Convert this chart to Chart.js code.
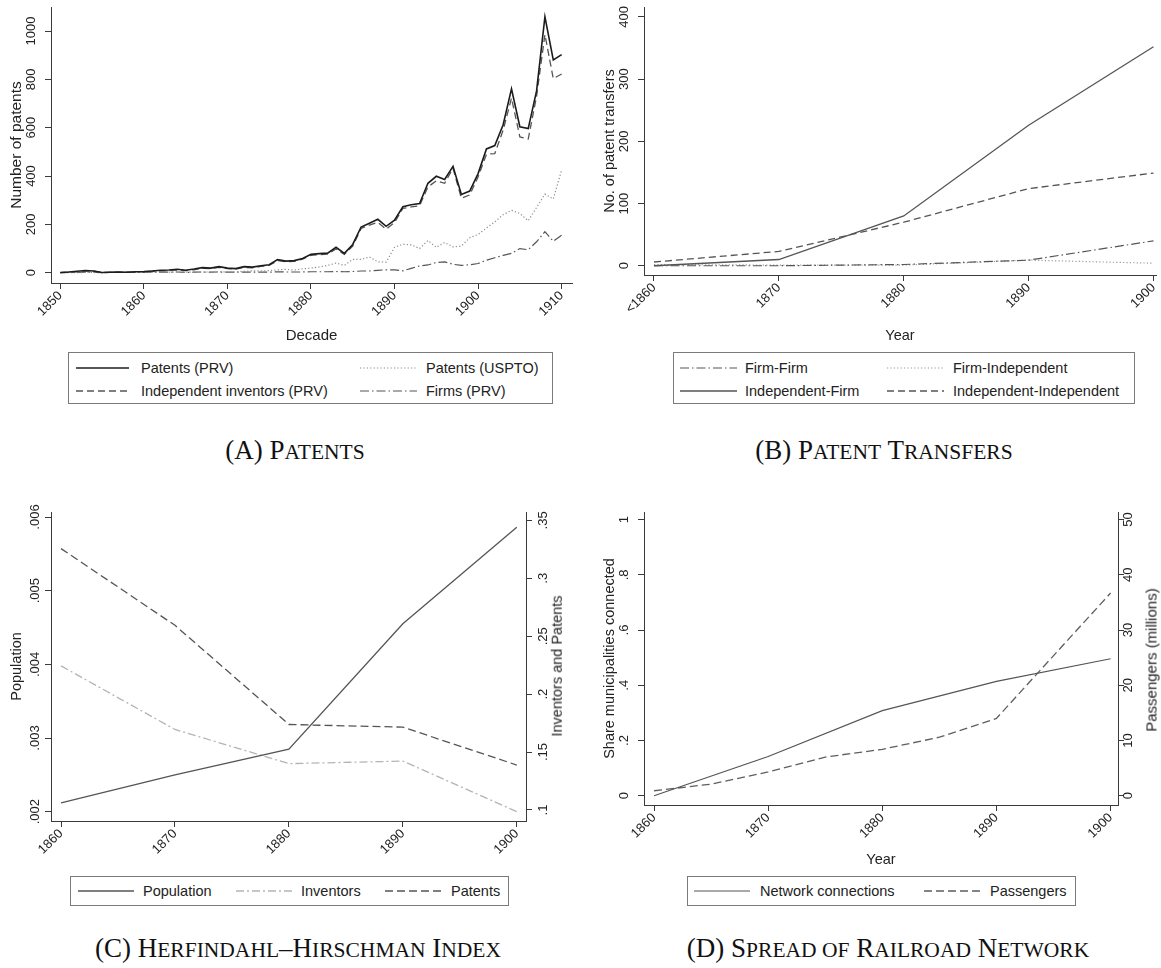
<!DOCTYPE html>
<html><head><meta charset="utf-8">
<script src="https://cdn.jsdelivr.net/npm/chart.js@4.4.1/dist/chart.umd.min.js"></script>
<style>
html,body{margin:0;padding:0;background:#fff;}
#page{position:relative;width:1161px;height:968px;overflow:hidden;background:#fff;font-family:"Liberation Sans",Arial,sans-serif;}
canvas{position:absolute;}
.legend{position:absolute;border:1px solid #7a7a7a;box-sizing:border-box;background:#fff;}
.li{position:absolute;font-size:14.5px;color:#222;line-height:1;white-space:nowrap;transform:translateY(-50%);}
.cap{position:absolute;font-family:"Liberation Serif","Times New Roman",serif;color:#111;white-space:nowrap;transform:translate(-50%,-50%);font-size:27px;line-height:1;}
.cap .sc{font-size:21.5px;}
.rt{position:absolute;font-size:14.5px;color:#222;white-space:nowrap;line-height:1;transform:translate(-50%,-50%) rotate(-90deg);}
</style></head><body><div id="page">
<canvas id="cA" width="580" height="345" style="left:0;top:0;width:580px;height:345px"></canvas>
<canvas id="cB" width="581" height="345" style="left:580px;top:0;width:581px;height:345px"></canvas>
<canvas id="cC" width="580" height="370" style="left:0;top:500px;width:580px;height:370px"></canvas>
<canvas id="cD" width="581" height="370" style="left:580px;top:500px;width:581px;height:370px"></canvas>
<div class="rt" style="left:556.8px;top:666px">Inventors and Patents</div>
<div class="rt" style="left:1150.6px;top:660px;font-size:15px">Passengers (millions)</div>
<div class="cap" style="left:295px;top:450px">(A) P<span class="sc">ATENTS</span></div>
<div class="cap" style="left:884px;top:450px">(B) P<span class="sc">ATENT</span> T<span class="sc">RANSFERS</span></div>
<div class="cap" style="left:298px;top:948px">(C) H<span class="sc">ERFINDAHL</span>–H<span class="sc">IRSCHMAN</span> I<span class="sc">NDEX</span></div>
<div class="cap" style="left:888px;top:948px">(D) S<span class="sc">PREAD OF</span> R<span class="sc">AILROAD</span> N<span class="sc">ETWORK</span></div>
</div>
<script>
// ---------- Panel A: Patents (annual) ----------
const yearsA = [1850,1851,1852,1853,1854,1855,1856,1857,1858,1859,
  1860,1861,1862,1863,1864,1865,1866,1867,1868,1869,
  1870,1871,1872,1873,1874,1875,1876,1877,1878,1879,
  1880,1881,1882,1883,1884,1885,1886,1887,1888,1889,
  1890,1891,1892,1893,1894,1895,1896,1897,1898,1899,
  1900,1901,1902,1903,1904,1905,1906,1907,1908,1909,1910];
const patentsPRV = [1,3,6,9,7,1,2,3,2,4,
  5,7,10,11,14,10,15,21,19,25,
  19,17,25,23,29,33,54,48,50,59,
  76,79,81,105,80,117,189,205,221,192,
  217,273,281,286,370,399,386,440,324,338,
  410,512,526,612,761,604,596,752,1059,880,902];
const independentPRV = [0,2,4,7,6,1,2,2,2,3,
  4,6,8,9,11,9,12,18,17,22,
  17,15,22,20,26,30,50,45,47,56,
  72,75,77,98,76,110,183,197,208,180,
  208,266,272,277,355,380,370,432,308,322,
  396,490,493,590,722,562,553,730,985,803,822];
const patentsUSPTO = [0,0,0,1,1,0,1,1,1,1,
  1,2,2,2,3,2,2,3,3,4,
  3,3,6,8,7,9,12,14,11,16,
  19,24,30,40,30,55,55,65,45,44,
  105,118,115,100,133,105,125,107,110,145,
  158,185,210,240,258,245,215,270,325,305,425];
const firmsPRV = [0,1,1,2,2,0,1,1,1,1,
  1,2,2,2,3,1,2,3,2,3,
  2,2,3,2,2,2,4,3,3,3,
  4,4,4,5,4,5,7,7,10,12,
  12,8,18,28,32,42,45,35,30,33,
  38,52,62,72,80,100,95,128,170,130,155];
const xTicksA = [1850,1860,1870,1880,1890,1900,1910];
const xLabelsA = ['1850','1860','1870','1880','1890','1900','1910'];
const yTicksA = [0,200,400,600,800,1000];
const yLabelsA = ['0','200','400','600','800','1000'];

// ---------- Panel B: Patent transfers ----------
const yearsB = [1860,1870,1880,1890,1900];
const xLabelsB = ['<1860','1870','1880','1890','1900'];
const firmFirm = [0,0,2,9,40];
const firmIndependent = [2,1,1,9,4];
const independentFirm = [0,10,80,226,352];
const independentIndependent = [6,23,70,124,149];
const yTicksB = [0,100,200,300,400];
const yLabelsB = ['0','100','200','300','400'];

// ---------- Panel C: HHI ----------
const yearsC = [1860,1870,1880,1890,1900];
const hhiPopulation = [0.00212,0.00250,0.00285,0.00455,0.00586];
const hhiInventors = [0.2244,0.1695,0.1400,0.1422,0.0986];
const hhiPatents = [0.3256,0.2594,0.1738,0.1715,0.1388];
const xTicksC = [1860,1870,1880,1890,1900];
const xLabelsC = ['1860','1870','1880','1890','1900'];
const yTicksCL = [0.002,0.003,0.004,0.005,0.006];
const yLabelsCL = ['.002','.003','.004','.005','.006'];
const yTicksCR = [0.1,0.15,0.2,0.25,0.3,0.35];
const yLabelsCR = ['.1','.15','.2','.25','.3','.35'];

// ---------- Panel D: Railroad ----------
const yearsDNet = [1860,1870,1880,1890,1900];
const networkShare = [0,0.142,0.308,0.414,0.496];
const yearsDPass = [1860,1865,1870,1875,1880,1885,1890,1900];
const passengersMillions = [0.9,2.1,4.3,7.0,8.4,10.6,14.0,36.7];
const xTicksD = [1860,1870,1880,1890,1900];
const xLabelsD = ['1860','1870','1880','1890','1900'];
const yTicksDL = [0,0.2,0.4,0.6,0.8,1];
const yLabelsDL = ['0','.2','.4','.6','.8','1'];
const yTicksDR = [0,10,20,30,40,50];
const yLabelsDR = ['0','10','20','30','40','50'];

// ---------- helpers ----------
Chart.defaults.font.family = '"Liberation Sans", Arial, sans-serif';
Chart.defaults.color = '#222';
Chart.defaults.animation = false;
const AX = '#3a3a3a';
const TXT = '#222';

function pts(xs, ys){ return xs.map((x,i)=>({x:x, y:ys[i]})); }

function xAxis(o){
  return {
    type:'linear', position:'bottom', min:o.min, max:o.max,
    afterBuildTicks: s => { s.ticks = o.ticks.map(v=>({value:v})); },
    afterFit: s => { s.height = o.height; s.paddingLeft = 0; s.paddingRight = 0; },
    ticks:{ autoSkip:false, minRotation:45, maxRotation:45, padding:o.pad, color:TXT, font:{size:13},
      callback:(v,i)=>o.labels[i] },
    grid:{ display:true, drawOnChartArea:false, drawTicks:true, tickLength:6, color:AX, tickColor:AX, tickWidth:1 },
    border:{ display:true, color:AX, width:1 },
    title: o.title ? { display:true, text:o.title, color:TXT, font:{size:o.tsize||14.5}, padding:{top:0,bottom:o.tpad} } : {display:false}
  };
}
function yAxis(o){
  return {
    type:'linear', position:o.pos, min:o.min, max:o.max,
    afterBuildTicks: s => { s.ticks = o.ticks.map(v=>({value:v})); },
    afterFit: s => { s.width = o.width; s.paddingTop = 0; s.paddingBottom = 0; },
    ticks:{ minRotation:90, maxRotation:90, crossAlign:'center', padding:o.pad, color:TXT, font:{size:13},
      callback:(v,i)=>o.labels[i] },
    grid:{ display:true, drawOnChartArea:false, drawTicks:true, tickLength:6, color:AX, tickColor:AX, tickWidth:1 },
    border:{ display:true, color:AX, width:1 },
    title: o.title ? { display:true, text:o.title, color:TXT, font:{size:o.tsize||14.5}, padding:{top:o.tpad,bottom:0} } : {display:false}
  };
}
function ds(label, data, color, width, dash, axis){
  const d = { label:label, data:data, borderColor:color, backgroundColor:color, borderWidth:width,
    borderDash:dash, pointRadius:0, pointHoverRadius:0, tension:0, fill:false };
  if (axis) d.yAxisID = axis;
  return d;
}
function baseOpts(padding, scales){
  return { responsive:false, devicePixelRatio:1, animation:false,
    layout:{ padding:padding },
    plugins:{ legend:{display:false}, tooltip:{enabled:false} },
    events:[], scales:scales };
}
function buildLegend(chart, box, items){
  const page = document.getElementById('page');
  const div = document.createElement('div');
  div.className = 'legend';
  Object.assign(div.style, {left:box[0]+'px', top:box[1]+'px', width:box[2]+'px', height:box[3]+'px'});
  const NS = 'http://www.w3.org/2000/svg';
  items.forEach(it => {
    const d = chart.data.datasets[it.i];
    const w = it.s1 - it.s0;
    const svg = document.createElementNS(NS,'svg');
    svg.setAttribute('width', w); svg.setAttribute('height', 6);
    svg.style.position = 'absolute'; svg.style.left = it.s0+'px'; svg.style.top = (it.y-3)+'px';
    const ln = document.createElementNS(NS,'line');
    ln.setAttribute('x1',0); ln.setAttribute('y1',3); ln.setAttribute('x2',w); ln.setAttribute('y2',3);
    ln.setAttribute('stroke', d.borderColor); ln.setAttribute('stroke-width', d.borderWidth);
    if (d.borderDash && d.borderDash.length) ln.setAttribute('stroke-dasharray', d.borderDash.join(' '));
    svg.appendChild(ln); div.appendChild(svg);
    const t = document.createElement('div'); t.className = 'li'; t.textContent = d.label;
    t.style.left = it.t+'px'; t.style.top = it.y+'px';
    div.appendChild(t);
  });
  page.appendChild(div);
}

// ---------- Chart A ----------
const chartA = new Chart(document.getElementById('cA'), {
  type:'line',
  data:{ datasets:[
    ds('Patents (PRV)', pts(yearsA, patentsPRV), '#1c1c1c', 1.6, []),
    ds('Independent inventors (PRV)', pts(yearsA, independentPRV), '#555', 1.3, [7,4]),
    ds('Patents (USPTO)', pts(yearsA, patentsUSPTO), '#8c8c8c', 1.2, [1.2,2.2]),
    ds('Firms (PRV)', pts(yearsA, firmsPRV), '#555', 1.2, [9,3,1.5,3])
  ]},
  options: baseOpts({left:0, top:7, right:8, bottom:0}, {
    x: xAxis({min:1848.89, max:1911.24, ticks:xTicksA, labels:xLabelsA, height:62, pad:-1, title:'Decade', tsize:15, tpad:0}),
    y: yAxis({pos:'left', min:-42.6, max:1099.3, ticks:yTicksA, labels:yLabelsA, width:51, pad:-0.9, title:'Number of patents', tsize:15.5, tpad:7.4})
  })
});

// ---------- Chart B ----------
const chartB = new Chart(document.getElementById('cB'), {
  type:'line',
  data:{ datasets:[
    ds('Independent-Firm', pts(yearsB, independentFirm), '#555', 1.3, []),
    ds('Independent-Independent', pts(yearsB, independentIndependent), '#555', 1.3, [7,4]),
    ds('Firm-Firm', pts(yearsB, firmFirm), '#555', 1.2, [9,3,1.5,3]),
    ds('Firm-Independent', pts(yearsB, firmIndependent), '#9a9a9a', 1.2, [1.2,2.2])
  ]},
  options: baseOpts({left:0, top:7, right:5, bottom:0}, {
    x: xAxis({min:1859.2, max:1900.2, ticks:yearsB, labels:xLabelsB, height:70, pad:-1, title:'Year', tpad:0}),
    y: yAxis({pos:'left', min:-14.9, max:416, ticks:yTicksB, labels:yLabelsB, width:64, pad:2.7, title:'No. of patent transfers', tpad:20.9})
  })
});

// ---------- Chart C ----------
const chartC = new Chart(document.getElementById('cC'), {
  type:'line',
  data:{ datasets:[
    ds('Population', pts(yearsC, hhiPopulation), '#555', 1.3, [], 'yL'),
    ds('Inventors', pts(yearsC, hhiInventors), '#b4b4b4', 1.3, [8,3,2,3], 'yR'),
    ds('Patents', pts(yearsC, hhiPatents), '#555', 1.3, [8,4], 'yR')
  ]},
  options: baseOpts({left:0, top:12, right:0, bottom:0}, {
    x: xAxis({min:1859.12, max:1900.81, ticks:xTicksC, labels:xLabelsC, height:49, pad:-1}),
    yL: yAxis({pos:'left', min:0.001874, max:0.006068, ticks:yTicksCL, labels:yLabelsCL, width:51, pad:-2.7, title:'Population', tpad:7.9}),
    yR: yAxis({pos:'right', min:0.0905, max:0.3572, ticks:yTicksCR, labels:yLabelsCR, width:54, pad:2.8})
  })
});

// ---------- Chart D ----------
const chartD = new Chart(document.getElementById('cD'), {
  type:'line',
  data:{ datasets:[
    ds('Network connections', pts(yearsDNet, networkShare), '#555', 1.2, [], 'yL'),
    ds('Passengers', pts(yearsDPass, passengersMillions), '#5e5e5e', 1.3, [8,4], 'yR')
  ]},
  options: baseOpts({left:0, top:12, right:0, bottom:0}, {
    x: xAxis({min:1859.12, max:1900.65, ticks:xTicksD, labels:xLabelsD, height:65, pad:-1, title:'Year', tpad:1.3}),
    yL: yAxis({pos:'left', min:-0.0336, max:1.0275, ticks:yTicksDL, labels:yLabelsDL, width:64, pad:8, title:'Share municipalities connected', tpad:20.9}),
    yR: yAxis({pos:'right', min:-1.68, max:51.37, ticks:yTicksDR, labels:yLabelsDR, width:43, pad:-3})
  })
});

// ---------- Legends ----------
buildLegend(chartA, [68,352,485,52], [
  {i:0, s0:7, s1:60, t:72, y:15},
  {i:2, s0:291, s1:348, t:357, y:15},
  {i:1, s0:7, s1:60, t:72, y:38},
  {i:3, s0:291, s1:348, t:357, y:38}
]);
buildLegend(chartB, [673,352,462,52], [
  {i:2, s0:6, s1:63, t:71, y:15},
  {i:3, s0:213, s1:270, t:279, y:15},
  {i:0, s0:6, s1:63, t:71, y:38},
  {i:1, s0:213, s1:270, t:279, y:38}
]);
buildLegend(chartC, [70,876,439,30], [
  {i:0, s0:7, s1:63, t:72, y:14},
  {i:1, s0:165, s1:224, t:230, y:14},
  {i:2, s0:314, s1:372, t:380, y:14}
]);
buildLegend(chartD, [687,876,389,30], [
  {i:0, s0:6, s1:62, t:72, y:14},
  {i:1, s0:236, s1:293, t:302, y:14}
]);
</script>
</body></html>
